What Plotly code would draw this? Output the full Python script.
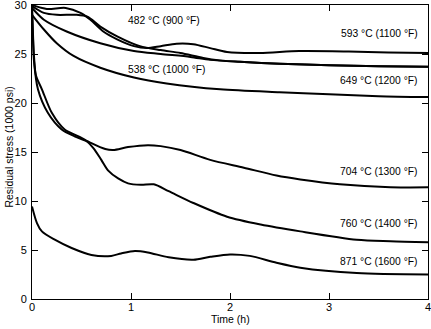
import plotly.graph_objects as go

# Residual stress relaxation at several stress-relief temperatures
# time in hours, stress in 1000 psi

t_593 = [0, 0.15, 0.34, 0.49, 0.59, 0.72, 0.86, 1.03, 1.16, 1.30, 1.46, 1.63, 1.80, 1.97, 2.3, 2.7, 3.2, 3.6, 4.0]
s_593 = [30.0, 29.6, 29.7, 29.2, 28.5, 27.3, 26.5, 25.8, 25.6, 25.8, 26.05, 26.0, 25.6, 25.2, 25.1, 25.3, 25.25, 25.15, 25.1]

t_482 = [0, 0.12, 0.25, 0.45, 0.56, 0.69, 0.86, 1.09, 1.30, 1.50, 1.73, 1.9, 2.1, 2.5, 3.0, 3.5, 4.0]
s_482 = [29.9, 29.2, 29.0, 29.0, 28.8, 27.8, 26.8, 25.8, 25.4, 25.1, 24.6, 24.35, 24.2, 24.0, 23.85, 23.75, 23.7]

t_538 = [0, 0.12, 0.35, 0.69, 1.03, 1.30, 1.60, 1.8, 2.1, 2.5, 3.0, 3.5, 4.0]
s_538 = [29.7, 28.5, 27.3, 26.1, 25.3, 25.0, 24.7, 24.4, 24.2, 24.0, 23.85, 23.75, 23.7]

t_649 = [0, 0.12, 0.25, 0.42, 0.69, 1.03, 1.36, 1.9, 2.5, 3.0, 3.5, 4.0]
s_649 = [29.0, 27.5, 26.1, 24.8, 23.6, 22.6, 22.0, 21.4, 21.1, 20.9, 20.7, 20.6]

t_704 = [0, 0.01, 0.02, 0.04, 0.10, 0.20, 0.33, 0.47, 0.60, 0.74, 0.82, 0.97, 1.17, 1.30, 1.50, 1.80, 2.14, 2.47, 2.71, 3.11, 3.62, 4.0]
s_704 = [29.8, 27.0, 24.8, 22.8, 21.4, 19.0, 17.3, 16.6, 15.9, 15.3, 15.2, 15.5, 15.7, 15.6, 15.2, 14.2, 13.4, 12.6, 12.2, 11.7, 11.4, 11.4]

t_760 = [0, 0.01, 0.02, 0.06, 0.16, 0.30, 0.43, 0.55, 0.62, 0.70, 0.77, 0.87, 0.97, 1.10, 1.23, 1.38, 1.63, 1.97, 2.31, 2.71, 3.28, 3.62, 4.0]
s_760 = [29.6, 26.5, 24.3, 21.4, 19.0, 17.3, 16.6, 16.1, 15.4, 14.2, 13.1, 12.3, 11.8, 11.65, 11.7, 11.0, 9.8, 8.4, 7.6, 6.9, 6.05, 5.9, 5.8]

t_871 = [0, 0.05, 0.10, 0.23, 0.40, 0.60, 0.80, 0.90, 1.04, 1.17, 1.38, 1.63, 1.80, 2.0, 2.2, 2.47, 2.71, 3.28, 4.0]
s_871 = [9.45, 7.75, 6.9, 6.05, 5.2, 4.5, 4.4, 4.65, 4.9, 4.75, 4.25, 4.0, 4.3, 4.55, 4.4, 3.7, 3.2, 2.65, 2.5]

curves = [
    (t_593, s_593), (t_482, s_482), (t_538, s_538), (t_649, s_649),
    (t_704, s_704), (t_760, s_760), (t_871, s_871),
]

# curve labels: text, time, stress, horizontal anchor
label_text = ["482 °C (900 °F)", "593 °C (1100 °F)", "538 °C (1000 °F)", "649 °C (1200 °F)",
              "704 °C (1300 °F)", "760 °C (1400 °F)", "871 °C (1600 °F)"]
label_t = [0.95, 3.92, 0.95, 3.92, 3.92, 3.92, 3.92]
label_s = [28.4, 27.1, 23.4, 22.3, 13.0, 7.75, 3.84]
label_anchor = ["left", "right", "left", "right", "right", "right", "right"]

x_ticks = [0, 1, 2, 3, 4]
y_ticks = [0, 5, 10, 15, 20, 25, 30]

FONT = "Liberation Sans, Arial, sans-serif"

fig = go.Figure()
for t, s in curves:
    fig.add_trace(go.Scatter(
        x=t, y=s, mode="lines",
        line=dict(color="black", width=2, shape="spline", smoothing=0.8),
        hoverinfo="skip", showlegend=False,
    ))

for txt, tx, sy, anc in zip(label_text, label_t, label_s, label_anchor):
    fig.add_annotation(x=tx, y=sy, text=txt, showarrow=False, xanchor=anc,
                       yanchor="middle", font=dict(family=FONT, size=10.3, color="black"))

fig.add_annotation(xref="paper", yref="paper", x=0.5, y=-0.068, text="Time (h)",
                   showarrow=False, xanchor="center", yanchor="middle",
                   font=dict(family=FONT, size=10.5, color="black"))
fig.add_annotation(xref="paper", yref="paper", x=-0.058, y=0.515,
                   text="Residual stress (1000 psi)", textangle=-90,
                   showarrow=False, xanchor="center", yanchor="middle",
                   font=dict(family=FONT, size=10.5, color="black"))

axis_common = dict(
    showline=True, linecolor="black", linewidth=1, mirror="allticks",
    ticks="inside", ticklen=6, tickwidth=1, tickcolor="black",
    showgrid=False, zeroline=False, automargin=False,
    ticklabeloverflow="allow",
    tickfont=dict(family=FONT, size=11, color="black"),
)

fig.update_layout(
    width=431, height=329,
    margin=dict(l=32, r=3, t=5, b=30),
    paper_bgcolor="white", plot_bgcolor="white",
    xaxis=dict(range=[0, 4], tickvals=x_ticks, ticklabelstandoff=-2, **axis_common),
    yaxis=dict(range=[0, 30], tickvals=y_ticks, ticklabelstandoff=2, **axis_common),
)

fig.write_html("out.html")
